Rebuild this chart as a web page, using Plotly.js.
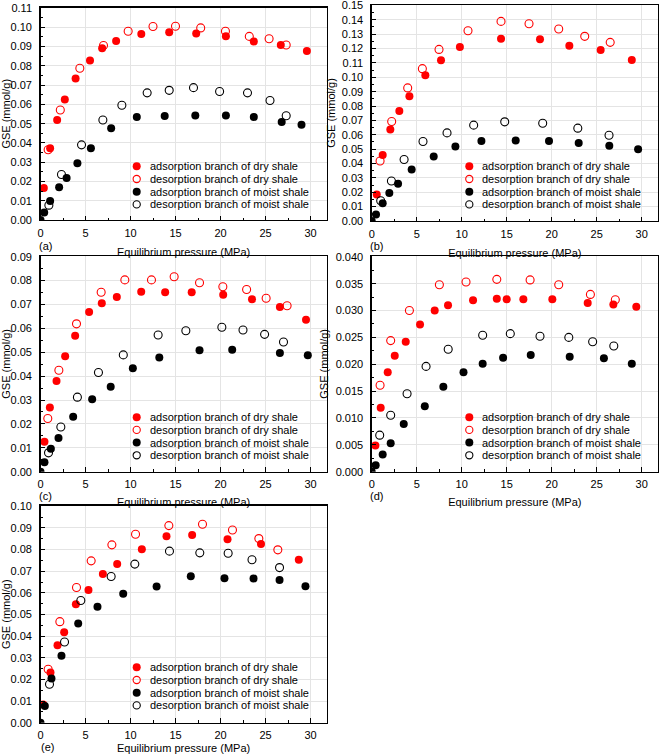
<!DOCTYPE html>
<html>
<head>
<meta charset="utf-8">
<script src="https://cdn.plot.ly/plotly-3.0.1.min.js"></script>
<style>html,body{margin:0;padding:0;background:#fff;}#chart{width:661px;height:754px;}</style>
</head>
<body>
<div id="chart"></div>
<script>
// ---------------- data (pressure in MPa, GSE in mmol/g) ----------------
const seriesNames = ["adsorption branch of dry shale", "desorption branch of dry shale",
                     "adsorption branch of moist shale", "desorption branch of moist shale"];
const panelLetters = ["(a)", "(b)", "(c)", "(d)", "(e)"];
const xTitle = "Equilibrium pressure (MPa)";
const yTitle = "GSE (mmol/g)";

// panel (a)
const aDryAdsP = [0.37, 1.07, 1.85, 2.7, 3.9, 5.5, 6.85, 8.4, 11.2, 14.3, 17.3, 20.6, 23.7, 26.7, 29.6];
const aDryAdsQ = [0.0166, 0.0372, 0.0519, 0.0625, 0.0735, 0.0828, 0.0891, 0.0929, 0.0965, 0.0975, 0.0968, 0.0954, 0.0927, 0.0908, 0.0877];
const aDryDesP = [0.85, 2.2, 4.37, 7.0, 9.74, 12.5, 15.0, 17.8, 20.55, 23.2, 25.4, 27.3];
const aDryDesQ = [0.0365, 0.0571, 0.0788, 0.0906, 0.098, 0.1004, 0.1006, 0.0997, 0.098, 0.0953, 0.0941, 0.0908];
const aMoistAdsP = [0, 0.41, 1.07, 2.07, 2.9, 4.1, 5.6, 7.85, 10.7, 13.8, 17.2, 20.6, 23.7, 26.8, 29.0];
const aMoistAdsQ = [0, 0.0039, 0.0099, 0.017, 0.0218, 0.0295, 0.0372, 0.0476, 0.0535, 0.054, 0.0543, 0.0543, 0.0535, 0.0509, 0.0494];
const aMoistDesP = [0.93, 2.33, 4.56, 6.93, 9.04, 11.85, 14.3, 17.0, 19.9, 23.0, 25.5, 27.3];
const aMoistDesQ = [0.0077, 0.0236, 0.039, 0.0519, 0.0596, 0.066, 0.0673, 0.0687, 0.0667, 0.066, 0.062, 0.0541];

// panel (b)
const bDryAdsP = [0.56, 1.22, 2.07, 3.07, 4.19, 5.96, 7.7, 9.8, 14.37, 18.7, 21.96, 25.44, 28.9];
const bDryAdsQ = [0.0185, 0.046, 0.0637, 0.0766, 0.0868, 0.1014, 0.1118, 0.121, 0.1269, 0.1264, 0.122, 0.119, 0.112];
const bDryDesP = [0.93, 2.22, 4.0, 5.63, 7.48, 10.7, 14.37, 17.48, 20.78, 23.67, 26.5];
const bDryDesQ = [0.0417, 0.0692, 0.0926, 0.106, 0.1194, 0.1324, 0.1389, 0.1373, 0.1336, 0.1285, 0.1243];
const bMoistAdsP = [0, 0.48, 1.22, 1.96, 2.93, 4.44, 6.89, 9.3, 12.19, 16.0, 19.7, 23.0, 26.4, 29.6];
const bMoistAdsQ = [0, 0.0046, 0.0123, 0.0194, 0.0259, 0.0359, 0.0449, 0.0519, 0.0556, 0.056, 0.0556, 0.0542, 0.0523, 0.05];
const bMoistDesP = [1.0, 2.19, 3.6, 5.7, 8.37, 11.33, 14.78, 19.0, 22.9, 26.37];
const bMoistDesQ = [0.0141, 0.0278, 0.0428, 0.0553, 0.0613, 0.0667, 0.069, 0.068, 0.0646, 0.0597];

// panel (c)
const cDryAdsP = [0.44, 1.04, 1.78, 2.74, 3.85, 5.4, 6.81, 8.48, 11.19, 13.85, 16.8, 20.3, 23.5, 26.6, 29.5];
const cDryAdsQ = [0.0125, 0.0269, 0.038, 0.0483, 0.0569, 0.0669, 0.0705, 0.0731, 0.0753, 0.0751, 0.0751, 0.0741, 0.0722, 0.069, 0.0636];
const cDryDesP = [0.81, 2.04, 4.0, 6.74, 9.37, 12.33, 14.85, 17.67, 20.26, 22.9, 25.07, 27.4];
const cDryDesQ = [0.0223, 0.0425, 0.0619, 0.0751, 0.0803, 0.0803, 0.0816, 0.0791, 0.0774, 0.0763, 0.0726, 0.0695];
const cMoistAdsP = [0, 0.44, 1.15, 2.0, 3.63, 5.74, 7.8, 10.26, 13.2, 17.67, 21.3, 26.6, 29.7];
const cMoistAdsQ = [0, 0.004, 0.0096, 0.0141, 0.023, 0.0303, 0.0356, 0.0433, 0.0478, 0.0508, 0.0511, 0.0497, 0.0488];
const cMoistDesP = [0.89, 2.26, 4.1, 6.44, 9.2, 13.07, 16.15, 20.15, 22.5, 24.9, 27.0];
const cMoistDesQ = [0.0079, 0.0187, 0.0312, 0.0415, 0.0489, 0.0572, 0.059, 0.0605, 0.0593, 0.0575, 0.0543];

// panel (d)
const dDryAdsP = [0.41, 1.0, 1.78, 2.56, 3.78, 5.37, 7.0, 8.48, 11.26, 13.9, 15.0, 16.85, 20.07, 24.0, 26.85, 29.4];
const dDryAdsQ = [0.0049, 0.0119, 0.0185, 0.0216, 0.0242, 0.0274, 0.03, 0.031, 0.0319, 0.0322, 0.0321, 0.0321, 0.0321, 0.0314, 0.0311, 0.0307];
const dDryDesP = [0.93, 2.11, 4.19, 7.52, 10.48, 13.9, 17.6, 20.78, 24.3, 27.07];
const dDryDesQ = [0.0161, 0.0244, 0.03, 0.0348, 0.0353, 0.0358, 0.0357, 0.0348, 0.033, 0.032];
const dMoistAdsP = [0, 0.44, 1.22, 2.11, 3.56, 5.9, 7.96, 10.2, 12.33, 14.6, 17.67, 22.0, 25.8, 28.9];
const dMoistAdsQ = [0, 0.0012, 0.0032, 0.0053, 0.0089, 0.0122, 0.0158, 0.0185, 0.0201, 0.0212, 0.0217, 0.0214, 0.0211, 0.0201];
const dMoistDesP = [0.89, 2.11, 3.93, 6.04, 8.5, 12.33, 15.4, 18.7, 21.9, 24.55, 26.9];
const dMoistDesQ = [0.0068, 0.0105, 0.0145, 0.0196, 0.0228, 0.0254, 0.0257, 0.0252, 0.025, 0.0242, 0.0234];

// panel (e)
const eDryAdsP = [0.3, 1.11, 1.89, 2.63, 3.93, 5.33, 6.93, 8.52, 11.26, 14.0, 16.85, 20.78, 24.5, 28.7];
const eDryAdsQ = [0.0084, 0.0232, 0.0358, 0.0418, 0.0547, 0.0613, 0.0687, 0.0734, 0.0802, 0.0862, 0.0868, 0.0848, 0.0826, 0.0753];
const eDryDesP = [0.85, 2.15, 4.0, 5.63, 7.93, 10.56, 14.26, 18.0, 21.33, 24.26, 26.37];
const eDryDesQ = [0.0247, 0.0467, 0.0625, 0.0748, 0.0822, 0.0871, 0.0911, 0.0917, 0.0891, 0.0851, 0.0799];
const eMoistAdsP = [0, 0.48, 1.22, 2.33, 4.19, 6.33, 9.19, 12.9, 16.7, 20.44, 23.67, 26.56, 29.44];
const eMoistAdsQ = [0, 0.0077, 0.0204, 0.031, 0.0458, 0.0536, 0.0596, 0.063, 0.0677, 0.0668, 0.0667, 0.0659, 0.0631];
const eMoistDesP = [1.0, 2.67, 4.48, 7.85, 10.48, 14.33, 17.7, 20.85, 23.5, 26.56];
const eMoistDesQ = [0.0178, 0.0373, 0.0565, 0.0676, 0.0733, 0.0793, 0.0785, 0.0783, 0.0753, 0.0717];

// y-axis tick settings per panel
const yMax = [0.11, 0.15, 0.09, 0.04, 0.10];
const yStep = [0.01, 0.01, 0.01, 0.005, 0.01];
const yDecimals = [2, 2, 2, 3, 2];

// ---------------- layout geometry (pixels) ----------------
const W = 661, H = 754;
const FONT = "Liberation Sans, Arial, Helvetica, sans-serif";
const RED = "#ff0000", BLACK = "#000000";
const XMAX = 31.8;
const cols = [[40.5, 326.7], [371.7, 657.9]];
const rows = [[7.5, 220], [5, 221], [256, 471.7], [256, 471.7], [505.7, 722.7]];
const panelCol = [0, 1, 0, 1, 0];
const xStandoff = [10, 10, 9, 9, 5];
const letterY = [246.5, 246.5, 496, 496, 746.5];
const letterX = [45, 45, 45, 45, 47];
const legendMarkerX = [136.7, 469.3, 136.7, 469.3, 136.7];
const legendRow0 = [166.3, 166.3, 417.2, 417.2, 667.3];
const legendRowGap = 12.7;

const panels = [
  [[aDryAdsP, aDryAdsQ], [aDryDesP, aDryDesQ], [aMoistAdsP, aMoistAdsQ], [aMoistDesP, aMoistDesQ]],
  [[bDryAdsP, bDryAdsQ], [bDryDesP, bDryDesQ], [bMoistAdsP, bMoistAdsQ], [bMoistDesP, bMoistDesQ]],
  [[cDryAdsP, cDryAdsQ], [cDryDesP, cDryDesQ], [cMoistAdsP, cMoistAdsQ], [cMoistDesP, cMoistDesQ]],
  [[dDryAdsP, dDryAdsQ], [dDryDesP, dDryDesQ], [dMoistAdsP, dMoistAdsQ], [dMoistDesP, dMoistDesQ]],
  [[eDryAdsP, eDryAdsQ], [eDryDesP, eDryDesQ], [eMoistAdsP, eMoistAdsQ], [eMoistDesP, eMoistDesQ]]
];
const seriesColor = [RED, RED, BLACK, BLACK];
const seriesFilled = [true, false, true, false];

const traces = [];
const layout = {
  width: W, height: H,
  margin: {l: 0, r: 0, t: 0, b: 0},
  paper_bgcolor: "#ffffff",
  plot_bgcolor: "#ffffff",
  showlegend: false,
  font: {family: FONT, size: 11, color: "#000"},
  annotations: [],
  shapes: []
};

function markerFor(s) {
  if (seriesFilled[s]) {
    return {symbol: "circle", size: 8, color: seriesColor[s], line: {width: 0}};
  }
  return {symbol: "circle-open", size: 8, color: seriesColor[s], line: {width: 1.1, color: seriesColor[s]}};
}

panels.forEach((panel, p) => {
  const n = p + 1;
  const xa = "xaxis" + (n === 1 ? "" : n), ya = "yaxis" + (n === 1 ? "" : n);
  const xr = "x" + (n === 1 ? "" : n), yr = "y" + (n === 1 ? "" : n);
  const c = cols[panelCol[p]], r = rows[p];
  panel.forEach((ser, s) => {
    traces.push({
      type: "scatter", mode: "markers",
      x: ser[0], y: ser[1],
      xaxis: xr, yaxis: yr,
      name: seriesNames[s],
      marker: markerFor(s),
      hoverinfo: "x+y"
    });
  });
  // y tick labels 0.00 ... yMax
  const nTicks = Math.round(yMax[p] / yStep[p]);
  const tv = [], tt = [];
  for (let i = 0; i <= nTicks; i++) {
    const v = Number((i * yStep[p]).toFixed(6));
    tv.push(v); tt.push(v.toFixed(yDecimals[p]));
  }
  const common = {
    showline: true, linecolor: "#000", linewidth: 1.3, mirror: true,
    ticks: "inside", ticklen: 4.5, tickwidth: 1, tickcolor: "#000",
    showgrid: true, gridcolor: "#e4e4e4", gridwidth: 1,
    zeroline: false, tickfont: {family: FONT, size: 11, color: "#000"},
    ticklabeloverflow: "allow",
    automargin: false,
    fixedrange: true
  };
  layout[xa] = Object.assign({}, common, {
    domain: [c[0] / W, c[1] / W],
    anchor: yr,
    range: [0, XMAX], tick0: 0, dtick: 5,
    minor: {ticks: "inside", ticklen: 2.5, dtick: 2.5, tick0: 0, tickcolor: "#000", tickwidth: 1, showgrid: false},
    ticklabelstandoff: 2,
    title: {text: xTitle, font: {family: FONT, size: 11, color: "#000"}, standoff: xStandoff[p]}
  });
  layout[ya] = Object.assign({}, common, {
    domain: [1 - r[1] / H, 1 - r[0] / H],
    anchor: xr,
    range: [0, yMax[p] + yStep[p] * 0.03],
    tickmode: "array", tickvals: tv, ticktext: tt,
    minor: {ticks: "inside", ticklen: 2.5, dtick: yStep[p] / 2, tick0: 0, tickcolor: "#000", tickwidth: 1, showgrid: false},
    ticklabelstandoff: 5,
    title: {text: yTitle, font: {family: FONT, size: 11, color: "#000"}, standoff: 4}
  });
  // panel letter
  layout.annotations.push({
    xref: "paper", yref: "paper",
    x: letterX[p] / W + (panelCol[p] ? (cols[1][0] - cols[0][0]) / W : 0), y: 1 - letterY[p] / H,
    text: panelLetters[p], showarrow: false,
    xanchor: "center", yanchor: "middle",
    font: {family: FONT, size: 11, color: "#000"}
  });
  // in-plot legend (marker shapes + text)
  for (let s = 0; s < 4; s++) {
    const cx = legendMarkerX[p], cy = legendRow0[p] + s * legendRowGap;
    const rad = seriesFilled[s] ? 4 : 3.6;
    layout.shapes.push({
      type: "circle", xref: "paper", yref: "paper",
      x0: (cx - rad) / W, x1: (cx + rad) / W,
      y0: 1 - (cy + rad) / H, y1: 1 - (cy - rad) / H,
      fillcolor: seriesFilled[s] ? seriesColor[s] : "rgba(0,0,0,0)",
      line: {color: seriesColor[s], width: seriesFilled[s] ? 0 : 1.1}
    });
    layout.annotations.push({
      xref: "paper", yref: "paper",
      x: (cx + 11) / W, y: 1 - cy / H,
      text: seriesNames[s], showarrow: false,
      xanchor: "left", yanchor: "middle",
      font: {family: FONT, size: 11, color: "#000"}
    });
  }
});

Plotly.newPlot("chart", traces, layout, {staticPlot: true, displayModeBar: false});
</script>
</body>
</html>
